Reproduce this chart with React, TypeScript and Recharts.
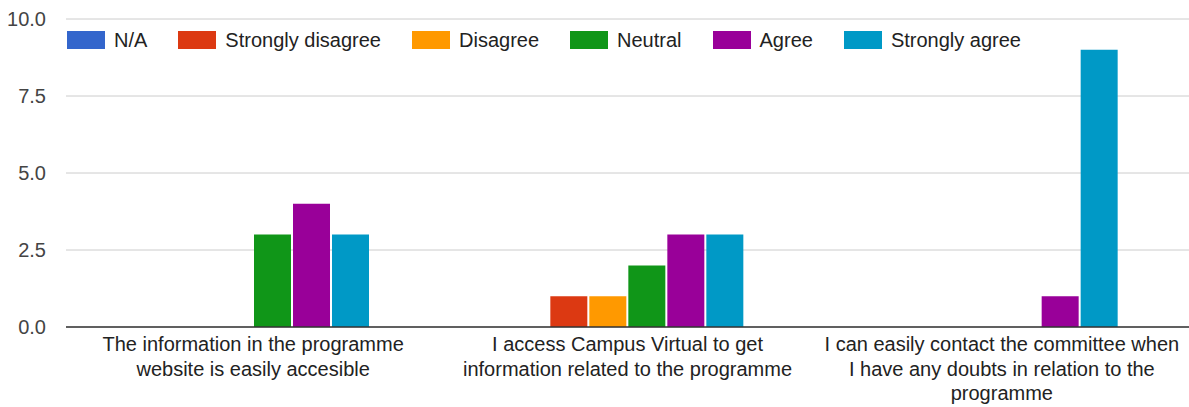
import React from "react";
import { Bar, BarChart, CartesianGrid, XAxis, YAxis } from "recharts";

const CATEGORIES = [
  "The information in the programme\nwebsite is easily accesible",
  "I access Campus Virtual to get\ninformation related to the programme",
  "I can easily contact the committee when\nI have any doubts in relation to the\nprogramme",
];

const SERIES = ["N/A", "Strongly disagree", "Disagree", "Neutral", "Agree", "Strongly agree"];
const COLORS = ["#3366cc", "#dc3912", "#ff9900", "#109618", "#990099", "#0099c6"];

const NA = [0, 0, 0];
const STRONGLY_DISAGREE = [0, 1, 0];
const DISAGREE = [0, 1, 0];
const NEUTRAL = [3, 2, 0];
const AGREE = [4, 3, 1];
const STRONGLY_AGREE = [3, 3, 9];

const Y_TICKS = [0, 2.5, 5, 7.5, 10];

const VALUES = [NA, STRONGLY_DISAGREE, DISAGREE, NEUTRAL, AGREE, STRONGLY_AGREE];

const data = CATEGORIES.map((name, i) => {
  const row: Record<string, string | number> = { name };
  SERIES.forEach((s, j) => {
    row[s] = VALUES[j][i];
  });
  return row;
});

const FONT = "'Liberation Sans', Arial, sans-serif";

function CategoryTick(props: any) {
  const { x, y, payload } = props;
  const lines = String(payload.value).split("\n");
  return (
    <text x={x} y={y} textAnchor="middle" fill="#222" fontSize={20} fontFamily={FONT}>
      {lines.map((line, i) => (
        <tspan key={i} x={x} y={y + 24 + i * 24.5}>
          {line}
        </tspan>
      ))}
    </text>
  );
}

// legend sits inside the plot, under the 10.0 gridline
function LegendRow() {
  return (
    <div
      style={{
        position: "absolute",
        top: 31,
        left: 67,
        display: "flex",
        alignItems: "center",
        fontFamily: FONT,
        fontSize: 20,
        color: "#222",
        whiteSpace: "nowrap",
      }}
    >
      {SERIES.map((s, i) => (
        <div key={s} style={{ display: "flex", alignItems: "center", marginRight: 31 }}>
          <span style={{ width: 38, height: 18, background: COLORS[i], display: "inline-block", marginRight: 9 }} />
          <span style={{ lineHeight: "18px" }}>{s}</span>
        </div>
      ))}
    </div>
  );
}

export default function App() {
  return (
    <div style={{ position: "absolute", left: 0, top: 0, width: 1189, height: 407, background: "#fff" }}>
      <BarChart
        width={1189}
        height={407}
        data={data}
        margin={{ top: 19, right: 0, bottom: 0, left: 0 }}
        barCategoryGap={71}
        barGap={2}
      >
        <CartesianGrid vertical={false} stroke="#cccccc" />
        <XAxis
          dataKey="name"
          height={80}
          tickLine={false}
          tickSize={0}
          tickMargin={0}
          axisLine={{ stroke: "#333333", strokeWidth: 1.5 }}
          tick={<CategoryTick />}
          interval={0}
        />
        <YAxis
          domain={[0, 10]}
          ticks={Y_TICKS}
          tickFormatter={(v: number) => v.toFixed(1)}
          width={66}
          axisLine={false}
          tickLine={false}
          tickSize={0}
          tickMargin={20}
          tick={{ fill: "#444", fontSize: 20, fontFamily: FONT }}
        />
        {SERIES.map((s, i) => (
          <Bar key={s} dataKey={s} fill={COLORS[i]} isAnimationActive={false} />
        ))}
      </BarChart>
      <LegendRow />
    </div>
  );
}
